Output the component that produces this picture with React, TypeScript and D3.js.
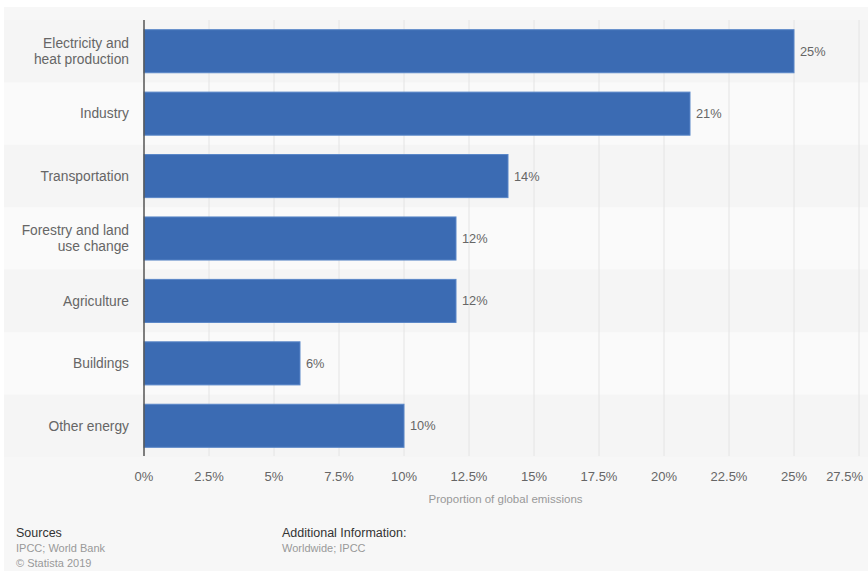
import React from "react";
import * as d3 from "d3";

const categories = [
  ["Electricity and", "heat production"],
  ["Industry"],
  ["Transportation"],
  ["Forestry and land", "use change"],
  ["Agriculture"],
  ["Buildings"],
  ["Other energy"],
];
const values = [25, 21, 14, 12, 12, 6, 10];
const ticks = [0, 2.5, 5, 7.5, 10, 12.5, 15, 17.5, 20, 22.5, 25, 27.5];
const tickLabels = ["0%", "2.5%", "5%", "7.5%", "10%", "12.5%", "15%", "17.5%", "20%", "22.5%", "25%", "27.5%"];
const valueLabels = ["25%", "21%", "14%", "12%", "12%", "6%", "10%"];

const W = 868;
const H = 571;
const font = "'Liberation Sans', Arial, Helvetica, sans-serif";

export default function App() {
  const x = d3.scaleLinear().domain([0, 27.5]).range([144, 859]);
  const keys = categories.map((c) => c.join(" "));
  const y = d3.scaleBand().domain(keys).range([20, 457]).paddingInner(0.31).paddingOuter(0.155);
  const step = y.step();

  return (
    <div style={{ position: "fixed", left: 0, top: 0 }}>
      <svg width={W} height={H} style={{ display: "block", fontFamily: font }}>
        <rect x={0} y={0} width={W} height={H} fill="#ffffff" />
        <rect x={4} y={7} width={W - 4} height={H - 7} fill="#f7f7f7" />
        {keys.map((k, i) => (
          <rect
            key={"band" + i}
            x={4}
            y={(y(k) as number) - (step - y.bandwidth()) / 2}
            width={W - 4}
            height={step}
            fill={i % 2 === 0 ? "#f5f5f5" : "#fafafa"}
          />
        ))}
        {ticks.map((t, i) =>
          i === 0 ? null : (
            <line key={"g" + i} x1={x(t)} x2={x(t)} y1={20} y2={456} stroke="#e4e4e4" strokeWidth={1} />
          )
        )}
        {keys.map((k, i) => (
          <rect
            key={"bar" + i}
            x={x(0)}
            y={y(k)}
            width={x(values[i]) - x(0)}
            height={y.bandwidth()}
            fill="#3b6bb3"
            stroke="#5a87c8"
            strokeWidth={1}
          />
        ))}
        <line x1={x(0)} x2={x(0)} y1={20} y2={456} stroke="#555" strokeWidth={1.5} />
        {keys.map((k, i) => {
          const cy = (y(k) as number) + y.bandwidth() / 2;
          const lines = categories[i];
          const lh = 16;
          return (
            <text key={"cl" + i} textAnchor="end" fontSize={13.8} fill="#666">
              {lines.map((l, j) => (
                <tspan key={j} x={x(0) - 15} y={cy + (j - (lines.length - 1) / 2) * lh + 4.8}>
                  {l}
                </tspan>
              ))}
            </text>
          );
        })}
        {keys.map((k, i) => (
          <text
            key={"vl" + i}
            x={x(values[i]) + 6}
            y={(y(k) as number) + y.bandwidth() / 2 + 4.5}
            fontSize={12.8}
            fill="#666"
          >
            {valueLabels[i]}
          </text>
        ))}
        {ticks.map((t, i) => (
          <text
            key={"tl" + i}
            x={i === ticks.length - 1 ? x(t) + 4 : x(t)}
            y={481}
            textAnchor={i === ticks.length - 1 ? "end" : "middle"}
            fontSize={13}
            fill="#666"
          >
            {tickLabels[i]}
          </text>
        ))}
        <text x={(x(0) + x(27.5)) / 2 + 4} y={503} textAnchor="middle" fontSize={11.5} fill="#999">
          Proportion of global emissions
        </text>
        <text x={16} y={537} fontSize={12.5} fill="#333">Sources</text>
        <text x={16} y={552} fontSize={11} fill="#999">IPCC; World Bank</text>
        <text x={16} y={567} fontSize={11} fill="#999">© Statista 2019</text>
        <text x={282} y={537} fontSize={12.5} fill="#333">Additional Information:</text>
        <text x={282} y={552} fontSize={11} fill="#999">Worldwide; IPCC</text>
      </svg>
    </div>
  );
}
